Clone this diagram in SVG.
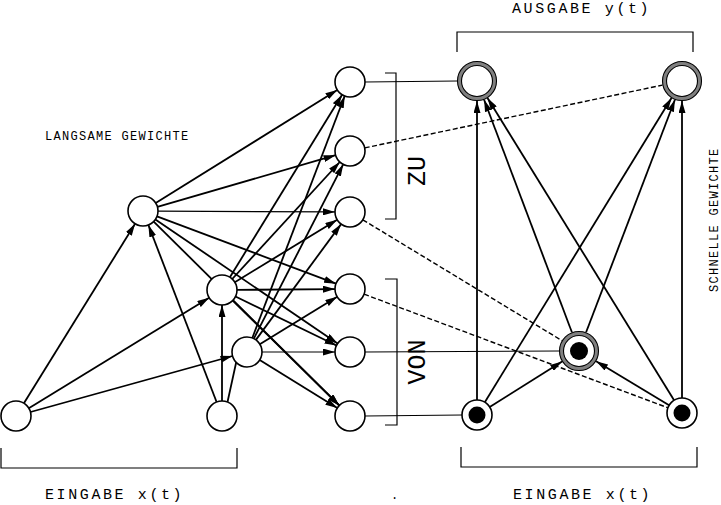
<svg xmlns="http://www.w3.org/2000/svg" width="721" height="505" viewBox="0 0 721 505">
<style>
.t{font-family:"Liberation Mono","DejaVu Sans Mono",monospace;fill:#000}
.e{stroke:#000;stroke-width:1.8;fill:none;marker-end:url(#ah)}
.h{stroke:#000;stroke-width:1.1;fill:none}
.d{stroke:#000;stroke-width:1.4;fill:none;stroke-dasharray:5,2.5}
.n{fill:#fff;stroke:#000;stroke-width:1.6}
.br{fill:none;stroke:#000;stroke-width:1.2}
.ring{fill:#fff;stroke:#808080;stroke-width:4}
.rb{fill:none;stroke:#000;stroke-width:1.1}
</style>
<defs>
<marker id="ah" markerWidth="12" markerHeight="7" refX="12" refY="3.5" orient="auto" markerUnits="userSpaceOnUse">
<path d="M0,0 L12,3.5 L0,7 z" fill="#000"/>
</marker>
</defs>
<rect width="721" height="505" fill="#fff"/>
<g id="connectors">
<line class="e" x1="23.9" y1="403.3" x2="135.1" y2="223.7"/>
<line class="e" x1="28.8" y1="408.2" x2="209.2" y2="297.8"/>
<line class="e" x1="30.5" y1="412" x2="232.5" y2="356"/>
<line class="e" x1="216.6" y1="402" x2="148.4" y2="225"/>
<line class="e" x1="222" y1="401" x2="222" y2="305"/>
<line class="e" x1="227.5" y1="402" x2="241.5" y2="338"/>
<line class="e" x1="155.7" y1="203.1" x2="337.3" y2="89.9"/>
<line class="e" x1="157.4" y1="206.8" x2="335.6" y2="155.2"/>
<line class="e" style="stroke-width:1.2" x1="158" y1="211.1" x2="335" y2="211.9"/>
<line class="e" x1="157" y1="216.3" x2="336" y2="283.7"/>
<line class="e" x1="155.4" y1="219.4" x2="337.6" y2="343.6"/>
<line class="e" x1="153.7" y1="221.6" x2="339.3" y2="405.4"/>
<line class="e" x1="229.9" y1="277.2" x2="342.1" y2="94.8"/>
<line class="e" x1="232.2" y1="279" x2="339.8" y2="162"/>
<line class="e" x1="234.8" y1="282.2" x2="337.2" y2="219.8"/>
<line class="e" x1="237" y1="289.9" x2="335" y2="289.1"/>
<line class="e" x1="235.5" y1="296.5" x2="336.5" y2="345.5"/>
<line class="e" x1="232.7" y1="300.5" x2="339.3" y2="405.5"/>
<line class="e" x1="252.3" y1="338" x2="344.7" y2="96"/>
<line class="e" x1="253.8" y1="338.7" x2="343.2" y2="164.3"/>
<line class="e" x1="255.9" y1="339.9" x2="341.1" y2="224.1"/>
<line class="e" x1="259.8" y1="344.2" x2="337.2" y2="296.8"/>
<line class="e" style="stroke-width:1.2" x1="262" y1="352" x2="335" y2="352"/>
<line class="e" x1="259.7" y1="359.9" x2="337.3" y2="408.1"/>
<line class="h" x1="365" y1="82" x2="457" y2="81"/>
<line class="d" x1="364.7" y1="147.9" x2="662.4" y2="85.1"/>
<line class="d" x1="362.8" y1="219.8" x2="561.9" y2="340.6"/>
<line class="d" x1="364.1" y1="294.2" x2="668" y2="407.8"/>
<line class="h" x1="365" y1="352" x2="559" y2="351"/>
<line class="h" x1="365" y1="416" x2="462" y2="415"/>
<line class="e" x1="477" y1="400" x2="477" y2="101"/>
<line class="e" x1="484.8" y1="402.2" x2="671.5" y2="98"/>
<line class="e" x1="489.7" y1="407" x2="562.1" y2="361.6"/>
<line class="e" x1="571.9" y1="332.3" x2="484.1" y2="99.7"/>
<line class="e" x1="586.1" y1="332.3" x2="674.9" y2="99.7"/>
<line class="e" x1="674.1" y1="400.2" x2="487.5" y2="98"/>
<line class="e" x1="682" y1="398" x2="682" y2="101"/>
<line class="e" x1="669.1" y1="405.3" x2="596.1" y2="361.3"/>
</g>
<g id="A"><circle class="n" cx="16" cy="416" r="15"/></g>
<g id="B"><circle class="n" cx="222" cy="416" r="15"/></g>
<g id="C"><circle class="n" cx="143" cy="211" r="15"/></g>
<g id="D"><circle class="n" cx="222" cy="290" r="15"/></g>
<g id="E"><circle class="n" cx="247" cy="352" r="15"/></g>
<g id="F1"><circle class="n" cx="350" cy="82" r="15"/></g>
<g id="F2"><circle class="n" cx="350" cy="151" r="15"/></g>
<g id="F3"><circle class="n" cx="350" cy="212" r="15"/></g>
<g id="F4"><circle class="n" cx="350" cy="289" r="15"/></g>
<g id="F5"><circle class="n" cx="350" cy="352" r="15"/></g>
<g id="F6"><circle class="n" cx="350" cy="416" r="15"/></g>
<g id="O1"><circle class="ring" cx="477" cy="81" r="17.5"/><circle class="rb" cx="477" cy="81" r="19.5"/><circle class="rb" cx="477" cy="81" r="15.5"/></g>
<g id="O2"><circle class="ring" cx="682" cy="81" r="17.5"/><circle class="rb" cx="682" cy="81" r="19.5"/><circle class="rb" cx="682" cy="81" r="15.5"/></g>
<g id="M"><circle class="ring" cx="579" cy="351" r="17.5"/><circle class="rb" cx="579" cy="351" r="19.5"/><circle class="rb" cx="579" cy="351" r="15.5"/><circle cx="579" cy="351" r="9" fill="#000"/></g>
<g id="I1"><circle class="n" cx="477" cy="415" r="15"/><circle cx="477" cy="415" r="8.5" fill="#000"/></g>
<g id="I2"><circle class="n" cx="682" cy="413" r="15"/><circle cx="682" cy="413" r="8.5" fill="#000"/></g>
<g id="labels">
<path class="br" d="M457,52 V32 H693 V52"/>
<path class="br" d="M1,448 V468 H237 V448"/>
<path class="br" d="M461,447 V467 H697 V447"/>
<path class="br" d="M385,73 H396 V219 H385"/>
<path class="br" d="M385,279 H397 V425 H385"/>
<text class="t" x="512" y="12.5" font-size="15" letter-spacing="2.6">AUSGABE y(t)</text>
<text class="t" x="45" y="499" font-size="15" letter-spacing="2.6">EINGABE x(t)</text>
<text class="t" x="513" y="499" font-size="15" letter-spacing="2.6">EINGABE x(t)</text>
<text class="t" x="45" y="140" font-size="12" letter-spacing="1.3">LANGSAME GEWICHTE</text>
<text class="t" transform="translate(718,292) rotate(-90)" font-size="12" letter-spacing="1.3">SCHNELLE GEWICHTE</text>
<text class="t" transform="translate(425,171) rotate(-90)" font-size="25" text-anchor="middle">ZU</text>
<text class="t" transform="translate(425,362) rotate(-90)" font-size="25" text-anchor="middle">VON</text>
<text class="t" x="391" y="499" font-size="12">.</text>
</g>
</svg>
